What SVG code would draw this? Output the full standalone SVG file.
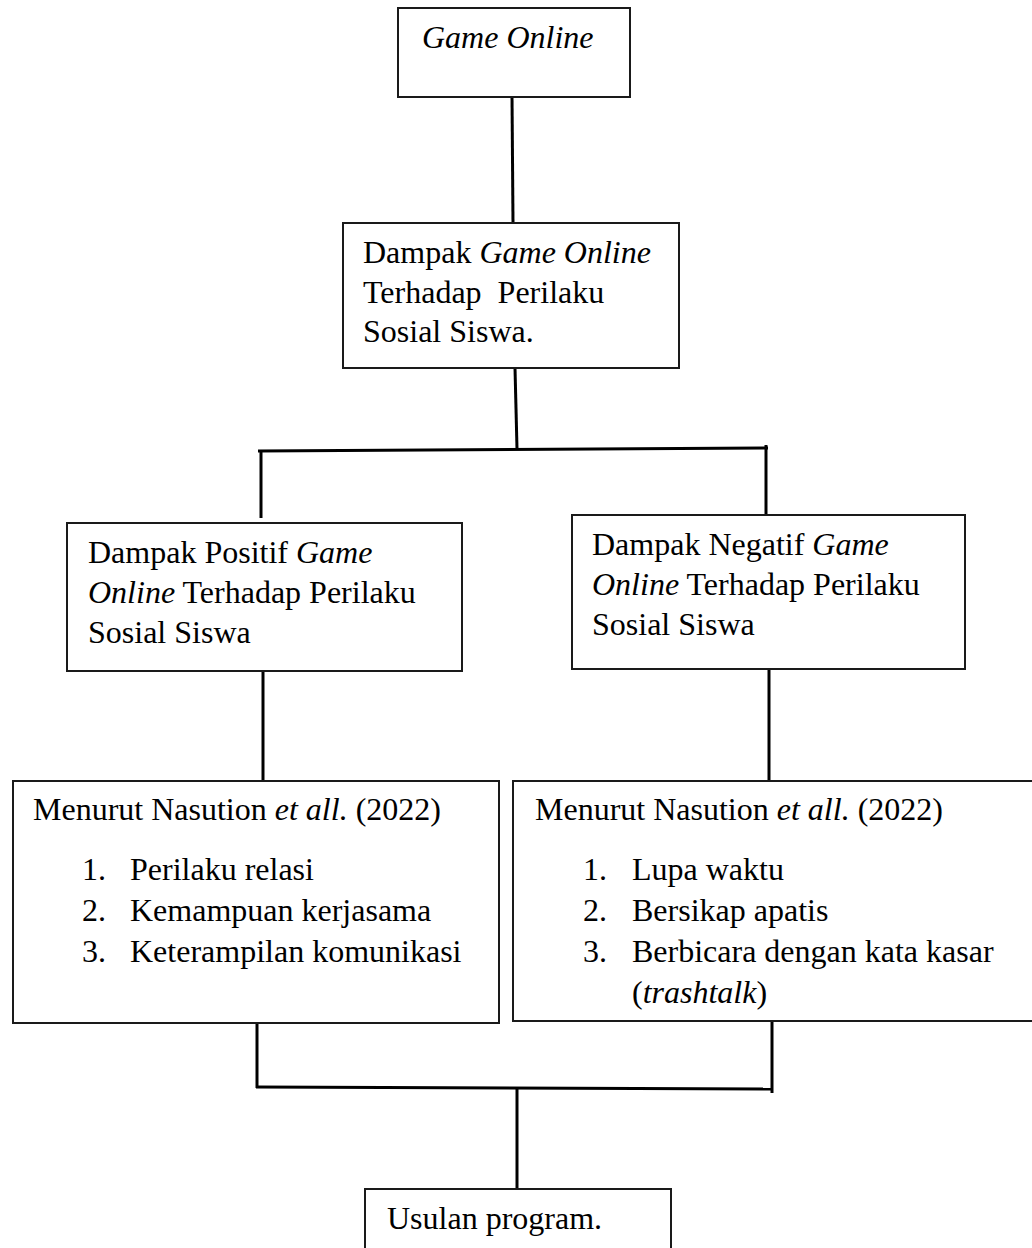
<svg xmlns="http://www.w3.org/2000/svg" width="1032" height="1248" viewBox="0 0 1032 1248">
<style>
.box{fill:#fff;stroke:#1a1a1a;stroke-width:2}
.t{font-family:"Liberation Serif","Times New Roman",serif;font-size:32px;fill:#000;white-space:pre}
.i{font-style:italic}
.c{stroke:#000;stroke-width:3;fill:none}
</style>
<rect width="1032" height="1248" fill="#fff"/>
<g id="connectors">
<line class="c" x1="512" y1="96" x2="513" y2="223"/>
<line class="c" x1="515" y1="368" x2="517" y2="449"/>
<line class="c" x1="258" y1="451" x2="768" y2="448"/>
<line class="c" x1="261" y1="450" x2="261" y2="518"/>
<line class="c" x1="766" y1="445" x2="766" y2="515"/>
<line class="c" x1="263" y1="671" x2="263" y2="781"/>
<line class="c" x1="769" y1="669" x2="769" y2="781"/>
<line class="c" x1="257" y1="1021" x2="257" y2="1088"/>
<line class="c" x1="772" y1="1020" x2="772" y2="1093"/>
<line class="c" x1="256" y1="1087" x2="772" y2="1089"/>
<line class="c" x1="517" y1="1088" x2="517" y2="1189"/>
</g>
<g id="game-online">
<rect class="box" x="398" y="8" width="232" height="89"/>
<text class="t i" x="422" y="48">Game Online</text>
</g>
<g id="dampak">
<rect class="box" x="343" y="223" width="336" height="145"/>
<text class="t" x="363" y="263">Dampak <tspan class="i">Game Online</tspan></text>
<text class="t" x="363" y="303">Terhadap  Perilaku</text>
<text class="t" x="363" y="342">Sosial Siswa.</text>
</g>
<g id="positif">
<rect class="box" x="67" y="523" width="395" height="148"/>
<text class="t" x="88" y="563">Dampak Positif <tspan class="i">Game</tspan></text>
<text class="t" x="88" y="603"><tspan class="i">Online</tspan> Terhadap Perilaku</text>
<text class="t" x="88" y="643">Sosial Siswa</text>
</g>
<g id="negatif">
<rect class="box" x="572" y="515" width="393" height="154"/>
<text class="t" x="592" y="555">Dampak Negatif <tspan class="i">Game</tspan></text>
<text class="t" x="592" y="595"><tspan class="i">Online</tspan> Terhadap Perilaku</text>
<text class="t" x="592" y="635">Sosial Siswa</text>
</g>
<g id="nasution-positif">
<rect class="box" x="13" y="781" width="486" height="242"/>
<text class="t" x="33" y="820">Menurut Nasution <tspan class="i">et all.</tspan> (2022)</text>
<text class="t" x="82" y="880">1.</text><text class="t" x="130" y="880">Perilaku relasi</text>
<text class="t" x="82" y="921">2.</text><text class="t" x="130" y="921">Kemampuan kerjasama</text>
<text class="t" x="82" y="962">3.</text><text class="t" x="130" y="962">Keterampilan komunikasi</text>
</g>
<g id="nasution-negatif">
<rect class="box" x="513" y="781" width="522" height="240"/>
<text class="t" x="535" y="820">Menurut Nasution <tspan class="i">et all.</tspan> (2022)</text>
<text class="t" x="583" y="880">1.</text><text class="t" x="632" y="880">Lupa waktu</text>
<text class="t" x="583" y="921">2.</text><text class="t" x="632" y="921">Bersikap apatis</text>
<text class="t" x="583" y="962">3.</text><text class="t" x="632" y="962">Berbicara dengan kata kasar</text>
<text class="t" x="632" y="1003">(<tspan class="i">trashtalk</tspan>)</text>
</g>
<g id="usulan">
<rect class="box" x="365" y="1189" width="306" height="70"/>
<text class="t" x="387" y="1229">Usulan program.</text>
</g>
</svg>
